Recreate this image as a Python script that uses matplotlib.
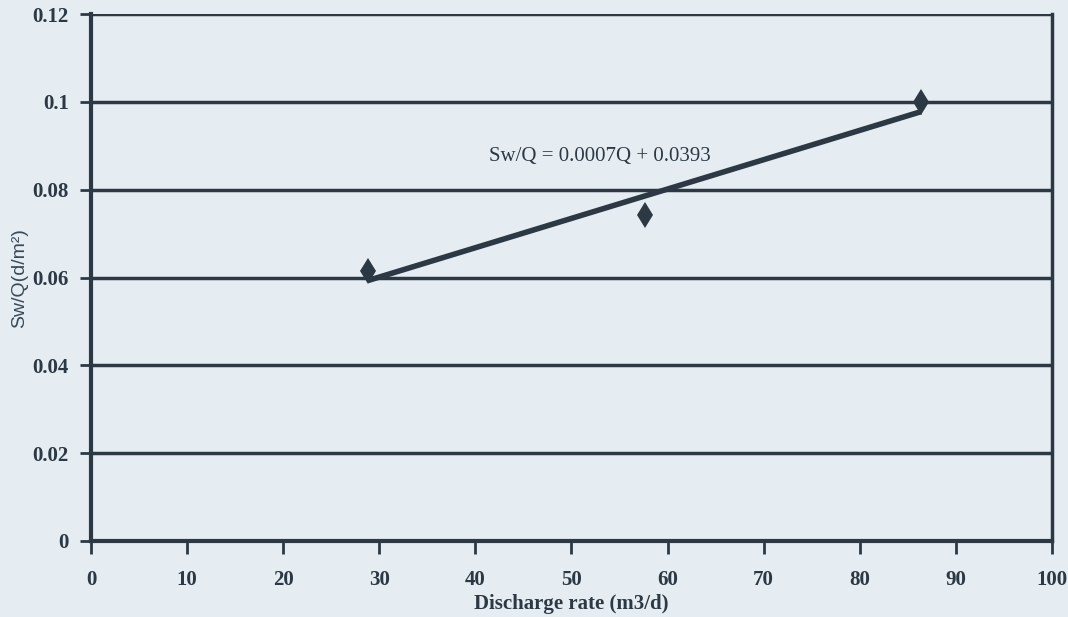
import matplotlib.pyplot as plt
import numpy as np

# discharge test data
discharge = [28.8, 57.6, 86.4]
sw_q = [0.0615, 0.0742, 0.1]
equation = "Sw/Q = 0.0007Q + 0.0393"

x_ticks = [0, 10, 20, 30, 40, 50, 60, 70, 80, 90, 100]
y_ticks = [0, 0.02, 0.04, 0.06, 0.08, 0.1, 0.12]
y_labels = ["0", "0.02", "0.04", "0.06", "0.08", "0.1", "0.12"]

bg = '#e5ecf2'
ink = '#2c3944'

fig = plt.figure(figsize=(10.68, 6.17), dpi=100, facecolor=bg)
ax = fig.add_axes([0.0852, 0.1232, 0.8998, 0.8538])
ax.set_facecolor(bg)

# linear trend from the data
coef = np.polyfit(discharge, sw_q, 1)
q = np.array([discharge[0], discharge[-1]])
ax.plot(q, np.polyval(coef, q), color=ink, lw=4, solid_capstyle='butt', zorder=3)
ax.plot(discharge, sw_q, 'd', color=ink, markersize=13, markeredgewidth=0, zorder=4)

ax.text(53, 0.0875, equation, fontsize=15, family='Liberation Serif',
        color=ink, ha='center', va='center')

ax.set_xlim(0, 100)
ax.set_ylim(0, 0.12)
ax.set_xticks(x_ticks)
ax.set_yticks(y_ticks)
ax.set_yticklabels(y_labels)
for lab in ax.get_xticklabels() + ax.get_yticklabels():
    lab.set_family('Liberation Serif')
    lab.set_fontweight('bold')
    lab.set_fontsize(15)
    lab.set_color(ink)

ax.grid(axis='y', color=ink, lw=2.5)
ax.set_axisbelow(True)
ax.tick_params(axis='x', direction='out', length=9, width=2, color=ink, pad=12)
ax.tick_params(axis='y', direction='out', length=8, width=2, color=ink, pad=8)

for s in ['left', 'bottom', 'right']:
    ax.spines[s].set_color(ink)
    ax.spines[s].set_linewidth(3)
ax.spines['right'].set_linewidth(2.5)
ax.spines['top'].set_visible(False)

ax.set_xlabel("Discharge rate (m3/d)", family='Liberation Serif', fontweight='bold',
              fontsize=15, color=ink, labelpad=3)
ax.set_ylabel("Sw/Q(d/m²)", family='Liberation Sans', fontsize=14, color='#3a4a58',
              labelpad=3)

fig.savefig('out.png', dpi=100, facecolor=bg)
